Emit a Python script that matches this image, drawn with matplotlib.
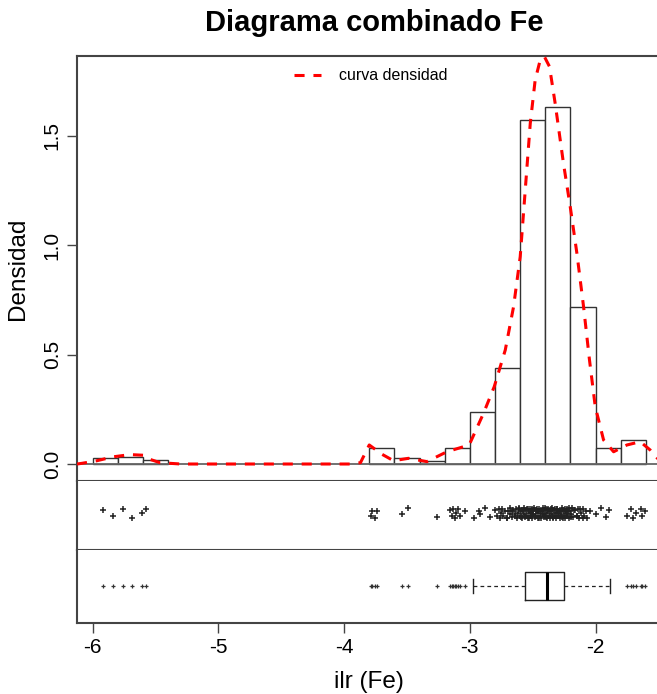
import matplotlib
matplotlib.use("Agg")
import matplotlib.pyplot as plt

plt.rcParams["font.family"] = ["Liberation Sans", "DejaVu Sans"]

# histograma (densidad por clase de ancho 0.2)
bin_left = [-6.0, -5.8, -5.6, -3.8, -3.6, -3.4, -3.2, -3.0, -2.8, -2.6, -2.4, -2.2, -2.0, -1.8]
densidad = [0.029, 0.033, 0.020, 0.0745, 0.026, 0.015, 0.0745, 0.239, 0.4375, 1.573, 1.631, 0.7165, 0.0745, 0.11]
ancho = 0.2

# curva de densidad
curva_x = [-6.125, -6.087, -5.967, -5.835, -5.702, -5.596, -5.543, -5.464, -5.30, -3.953, -3.87,
           -3.80, -3.70, -3.607, -3.488, -3.341, -3.182, -3.005, -2.891, -2.806, -2.718, -2.652,
           -2.599, -2.559, -2.519, -2.480, -2.440, -2.406, -2.366, -2.321, -2.255, -2.201, -2.148,
           -2.095, -2.048, -2.002, -1.936, -1.856, -1.750, -1.644, -1.565, -1.509, -1.48]
curva_y = [0.0, 0.003, 0.015, 0.033, 0.043, 0.040, 0.021, 0.006, 0.0, 0.0, 0.006,
           0.087, 0.045, 0.015, 0.026, 0.011, 0.056, 0.087, 0.232, 0.353, 0.521, 0.719,
           0.948, 1.253, 1.558, 1.756, 1.847, 1.862, 1.817, 1.649, 1.375, 1.176, 0.963,
           0.719, 0.476, 0.262, 0.110, 0.056, 0.087, 0.102, 0.064, 0.027, 0.012]

# valores individuales (stripchart)
strip_x = [-5.92, -5.84, -5.76, -5.69, -5.61, -5.58,
           -3.79, -3.78, -3.754, -3.741, -3.54, -3.488, -3.262,
           -3.156, -3.143, -3.13, -3.116, -3.108, -3.09, -3.076, -3.037,
           -2.97, -2.93, -2.917, -2.877, -2.838, -2.798,
           -2.785, -2.771, -2.762, -2.748, -2.741, -2.733, -2.719, -2.706, -2.698, -2.684,
           -2.677, -2.663, -2.655, -2.642, -2.631, -2.622, -2.614, -2.605,
           -2.598, -2.591, -2.587, -2.579, -2.572, -2.566, -2.559, -2.553, -2.547, -2.541,
           -2.536, -2.528, -2.523, -2.517, -2.511, -2.506, -2.499, -2.494, -2.488, -2.483,
           -2.477, -2.471, -2.466, -2.459, -2.454, -2.448, -2.443, -2.437, -2.431, -2.426,
           -2.421, -2.414, -2.409, -2.403, -2.398, -2.393, -2.388, -2.382, -2.377, -2.371,
           -2.366, -2.359, -2.354, -2.349, -2.343, -2.338, -2.331, -2.326, -2.321, -2.314,
           -2.309, -2.303, -2.297, -2.292, -2.286, -2.281, -2.274, -2.269, -2.263, -2.257,
           -2.252, -2.246, -2.241, -2.235, -2.229, -2.223, -2.217, -2.211, -2.206,
           -2.198, -2.187, -2.176, -2.163, -2.151, -2.142, -2.128, -2.117, -2.103, -2.091,
           -2.079, -2.064, -2.04, -2.0, -1.96, -1.92, -1.89,
           -1.75, -1.72, -1.70, -1.68, -1.64, -1.63, -1.61,
           -2.702, -2.668, -2.637, -2.611, -2.594, -2.576, -2.562, -2.544, -2.533, -2.514,
           -2.502, -2.485, -2.468, -2.451, -2.439, -2.418, -2.405, -2.391, -2.379, -2.362,
           -2.351, -2.335, -2.318, -2.306, -2.289, -2.277, -2.259, -2.244, -2.226, -2.213,
           -2.192, -2.169, -2.146, -2.121, -2.097]
jitter_patron = [0.05, -0.03, 0.07, -0.06, 0.01, 0.06, -0.04, 0.03, -0.07, 0.04, -0.01, 0.075, -0.05]

# resumen del boxplot
caja = dict(med=-2.387, q1=-2.561, q3=-2.25, whislo=-2.975, whishi=-1.888)

fig = plt.figure(figsize=(6.57, 6.94), dpi=100)
W, H = 657, 694
left, right = 77 / W, 661 / W
ax_h = fig.add_axes([left, 1 - 481 / H, right - left, (481 - 56) / H])
ax_s = fig.add_axes([left, 1 - 550 / H, right - left, (550 - 481) / H])
ax_b = fig.add_axes([left, 1 - 623 / H, right - left, (623 - 550) / H])

col_eje = "#444444"
xlim = (-6.125, -1.479)

# histograma
ax_h.bar(bin_left, densidad, width=ancho, align="edge", facecolor="white",
         edgecolor="#333333", linewidth=1.0, zorder=2)
ax_h.axhline(0, color="#666666", lw=1.3, zorder=3)
ax_h.plot(curva_x, curva_y, color="red", lw=2.2, ls=(0, (3.3, 2.9)), zorder=4,
          label="curva densidad")
ax_h.set_xlim(*xlim)
ax_h.set_ylim(-0.0777, 1.8656)
ax_h.set_yticks([0.0, 0.5, 1.0, 1.5])
ax_h.set_yticklabels(["0.0", "0.5", "1.0", "1.5"], rotation=90, va="center")
ax_h.set_xticks([])
ax_h.set_ylabel("Densidad", fontsize=17.5, labelpad=10)
ax_h.legend(loc="center left", bbox_to_anchor=(294 / W, 1 - 76 / H),
            bbox_transform=fig.transFigure, frameon=False, fontsize=11.5,
            handlelength=1.7, handletextpad=1.1, borderpad=0, borderaxespad=0)

# stripchart
jit = [jitter_patron[i % len(jitter_patron)] for i in range(len(strip_x))]
ax_s.plot(strip_x, [0.529 + j for j in jit], "+", ms=4, mew=1.1, color="#222222")
ax_s.set_xlim(*xlim)
ax_s.set_ylim(0, 1)
ax_s.set_xticks([])
ax_s.set_yticks([])

# boxplot
fliers = [v for v in strip_x if v < caja["whislo"] or v > caja["whishi"]]
stats = [dict(caja, fliers=fliers)]
ax_b.bxp(stats, positions=[0.507], widths=0.39, orientation="horizontal",
         boxprops=dict(color="#222222", lw=1.0),
         whiskerprops=dict(color="#222222", lw=0.9, ls=(0, (3, 2.5))),
         capprops=dict(color="#222222", lw=1.0), capwidths=0.195,
         medianprops=dict(color="black", lw=2.2),
         flierprops=dict(marker="+", ms=3, mew=0.9, markeredgecolor="#333333"))
ax_b.set_xlim(*xlim)
ax_b.set_ylim(0, 1)
ax_b.set_yticks([])
ax_b.set_xticks([-6, -5, -4, -3, -2])
ax_b.set_xticklabels(["-6", "-5", "-4", "-3", "-2"])
ax_b.set_xlabel("ilr (Fe)", fontsize=17.5, labelpad=10)

for ax in (ax_h, ax_s, ax_b):
    ax.spines["right"].set_visible(False)
    for s in ax.spines.values():
        s.set_color(col_eje)
        s.set_linewidth(1.5)
    ax.tick_params(direction="out", length=7, width=1.0, color=col_eje,
                   labelsize=15, pad=4)
ax_s.spines["top"].set_visible(False)
ax_b.spines["top"].set_visible(False)

fig.text(374 / W, 1 - 23 / H, "Diagrama combinado Fe", ha="center", va="center",
         fontsize=21, fontweight="bold")

fig.savefig("out.png", dpi=100)
